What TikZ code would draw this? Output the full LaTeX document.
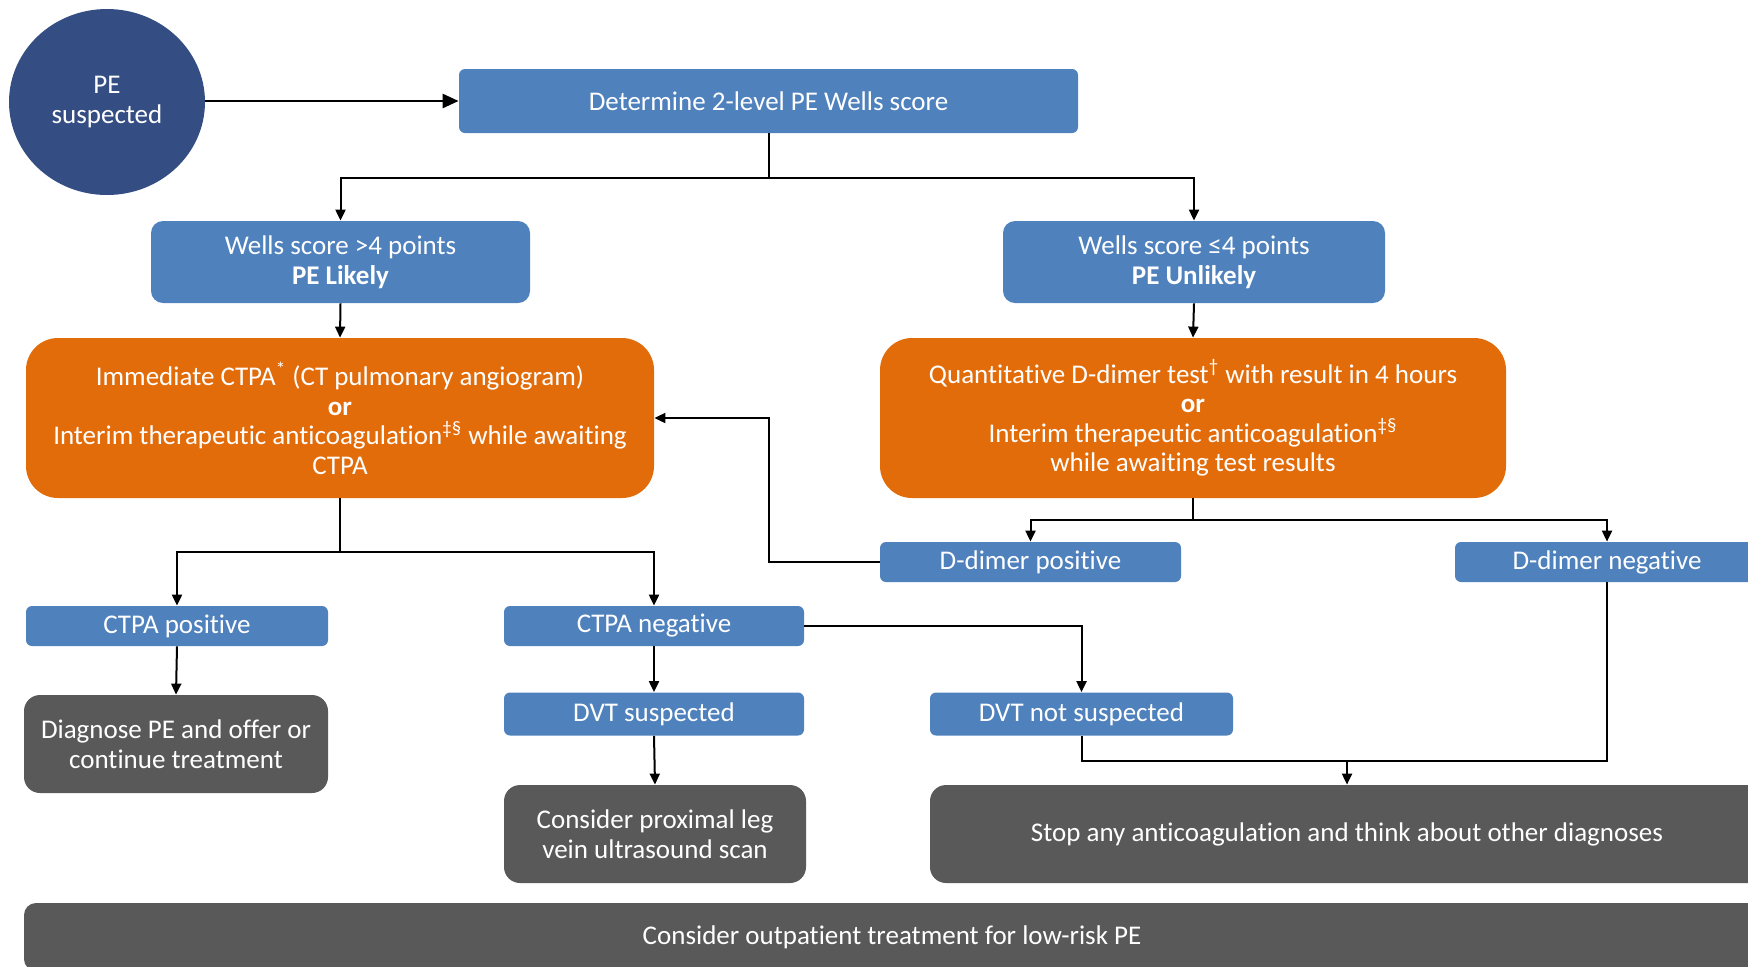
\documentclass[tikz,border=0pt]{standalone}
\usepackage{fontspec}
\setmainfont[Ligatures=NoCommon]{Carlito}
\usetikzlibrary{shapes.geometric,arrows.meta}
\definecolor{navyc}{HTML}{344E84}
\definecolor{boxblue}{HTML}{4F81BD}
\definecolor{boxorange}{HTML}{E36C0A}
\definecolor{boxgray}{HTML}{595959}
\tikzset{
  box/.style={rectangle, text=white, align=center, inner sep=0pt, font=\fontsize{13.5}{14.8}\selectfont},
  bluebox/.style={box, fill=boxblue, rounded corners=3pt},
  wellsbox/.style={box, fill=boxblue, rounded corners=6pt},
  orangebox/.style={box, fill=boxorange, rounded corners=16pt},
  graybox/.style={box, fill=boxgray, rounded corners=8pt},
  startnode/.style={ellipse, fill=navyc, text=white, align=center, inner sep=0pt, font=\fontsize{13.5}{14.8}\selectfont},
  conn/.style={draw=black, line width=1pt},
  arr/.style={conn, -{Triangle[length=5.5pt,width=5pt]}},
  bigarr/.style={draw=black, line width=1.3pt, -{Triangle[length=8pt,width=7pt]}}
}
\begin{document}
\begin{tikzpicture}[x=0.5pt,y=-0.5pt]
\clip (0,0) rectangle (1748,966);
\useasboundingbox (0,0) rectangle (1748,966);
\node[startnode, minimum width=98pt, minimum height=93pt] (pe) at (107,102) {PE\\suspected};
\node[bluebox, minimum width=309.5pt, minimum height=32pt] (det) at (768.5,101) {Determine 2-level PE Wells score};
\node[wellsbox, minimum width=189.5pt, minimum height=41pt] (wl) at (340.5,262) {Wells score >4 points\\\textbf{PE Likely}};
\node[wellsbox, minimum width=191pt, minimum height=41pt] (wu) at (1194,262) {Wells score ≤4 points\\\textbf{PE Unlikely}};
\node[orangebox, minimum width=314pt, minimum height=80pt] (ol) at (340,418) {Immediate CTPA\textsuperscript{*} (CT pulmonary angiogram)\\\textbf{or}\\Interim therapeutic anticoagulation\textsuperscript{‡§} while awaiting\\CTPA};
\node[orangebox, minimum width=313pt, minimum height=80pt] (orr) at (1193,418) {Quantitative D-dimer test\textsuperscript{†} with result in 4 hours\\\textbf{or}\\Interim therapeutic anticoagulation\textsuperscript{‡§}\\while awaiting test results};
\node[bluebox, minimum width=150.5pt, minimum height=20pt] (dpos) at (1030.5,562) {D-dimer positive};
\node[bluebox, minimum width=152pt, minimum height=20pt] (dneg) at (1607,562) {D-dimer negative};
\node[bluebox, minimum width=151pt, minimum height=20pt] (cpos) at (177,626) {CTPA positive};
\node[bluebox, minimum width=150pt, minimum height=20pt] (cneg) at (654,626) {CTPA negative};
\node[graybox, minimum width=152pt, minimum height=49pt] (diag) at (176,744) {Diagnose PE and offer or\\continue treatment};
\node[bluebox, minimum width=150pt, minimum height=21.5pt] (dvts) at (654,714) {DVT suspected};
\node[bluebox, minimum width=151.5pt, minimum height=21.5pt] (dvtn) at (1081.5,714) {DVT not suspected};
\node[graybox, minimum width=151pt, minimum height=49pt] (prox) at (655,834) {Consider proximal leg\\vein ultrasound scan};
\node[graybox, minimum width=417pt, minimum height=49pt] (stop) at (1347,834) {Stop any anticoagulation and think about other diagnoses};
\node[graybox, rounded corners=6pt, minimum width=868pt, minimum height=34pt] (outp) at (892,937) {Consider outpatient treatment for low-risk PE};
% connectors
\draw[bigarr] (pe.east |- det.west) -- (det.west);
\draw[arr] (det.south) -- ++(0,45) -| (wl.north);
\draw[arr] (det.south) -- ++(0,45) -| (wu.north);
\draw[arr] (wl.south) -- (ol.north);
\draw[arr] (wu.south) -- (orr.north);
\draw[arr] (ol.south) -- ++(0,54) -| (cpos.north);
\draw[arr] (ol.south) -- ++(0,54) -| (cneg.north);
\draw[arr] (orr.south) -- ++(0,22) -| (dpos.north);
\draw[arr] (orr.south) -- ++(0,22) -| (dneg.north);
\coordinate (back) at (769,562);
\draw[arr] (dpos.west) -- (back) |- (ol.east);
\draw[arr] (cpos.south) -- (diag.north);
\draw[arr] (cneg.south) -- (dvts.north);
\draw[arr] (dvts.south) -- (prox.north);
\draw[arr] (cneg.east) -| (dvtn.north);
\draw[conn] (dvtn.south) -- ++(0,25) -| (dneg.south);
\coordinate (merge) at (1347,761);
\draw[arr] (merge) -- (stop.north);
\end{tikzpicture}
\end{document}
